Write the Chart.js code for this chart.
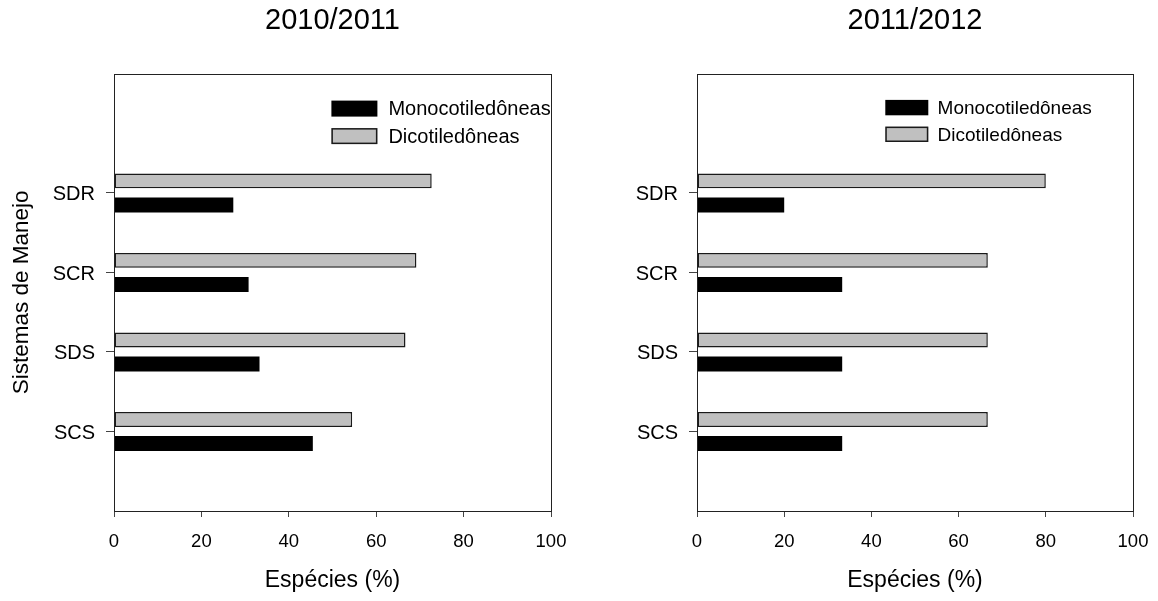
<!DOCTYPE html>
<html><head><meta charset="utf-8">
<script src="https://cdn.jsdelivr.net/npm/chart.js@4/dist/chart.umd.min.js"></script>
<style>
body{margin:0;background:#fff;width:1158px;height:601px;overflow:hidden;position:relative}
.c{position:absolute;top:0;width:579px;height:601px}
</style></head><body>
<div class="c" style="left:0"><canvas id="c1"></canvas></div>
<div class="c" style="left:579px"><canvas id="c2"></canvas></div>
<script>
// ---- data ----
const categories = ['SCS', 'SDS', 'SCR', 'SDR'];
const categoryPositions = [1, 2, 3, 4];
const seriesNames = ['Monocotiledôneas', 'Dicotiledôneas'];
const mono2010 = [45.5, 33.3, 30.8, 27.3];
const dicot2010 = [54.5, 66.7, 69.2, 72.7];
const mono2011 = [33.3, 33.3, 33.3, 20.0];
const dicot2011 = [66.7, 66.7, 66.7, 80.0];
const xTicks = [0, 20, 40, 60, 80, 100];
const panelTitles = ['2010/2011', '2011/2012'];
const xTitle = 'Espécies (%)';
const yTitle = 'Sistemas de Manejo';

Chart.defaults.font.family = '"Liberation Sans", Arial, sans-serif';
Chart.defaults.color = '#000';
Chart.defaults.animation = false;

const boxPlugin = {
  id: 'boxPlugin',
  afterDraw(chart) {
    const {ctx, chartArea: a} = chart;
    ctx.save();
    ctx.strokeStyle = '#222';
    ctx.lineWidth = 1;
    ctx.strokeRect(Math.round(a.left) + 0.5, Math.round(a.top) + 0.5,
      Math.round(a.right) - Math.round(a.left), Math.round(a.bottom) - Math.round(a.top));
    ctx.restore();
  }
};

const insideLegend = {
  id: 'insideLegend',
  afterDatasetsDraw(chart, args, o) {
    const {ctx, chartArea: a} = chart;
    const items = chart.data.datasets.slice().reverse();
    ctx.save();
    items.forEach((ds, i) => {
      const x = a.left + o.x, y = a.top + o.y + i * o.gap;
      ctx.fillStyle = ds.backgroundColor;
      ctx.fillRect(x, y, o.w, o.h);
      if (ds.borderWidth) {
        ctx.strokeStyle = ds.borderColor;
        ctx.lineWidth = 1.5;
        ctx.strokeRect(x + 0.75, y + 0.75, o.w - 1.5, o.h - 1.5);
      }
      ctx.fillStyle = '#000';
      ctx.font = o.fontSize + 'px "Liberation Sans", Arial, sans-serif';
      ctx.textBaseline = 'middle';
      ctx.textAlign = 'left';
      ctx.fillText(ds.label, x + o.w + o.textGap, y + o.h / 2 + 1);
    });
    ctx.restore();
  }
};

function makeChart(id, mono, dicot, title, showYTitle, yWidth, padRight, leg) {
  const toPts = arr => arr.map((v, i) => ({x: v, y: categoryPositions[i]}));
  return new Chart(document.getElementById(id), {
    type: 'bar',
    data: {
      datasets: [
        {label: seriesNames[1], data: toPts(dicot), backgroundColor: '#c0c0c0',
         borderColor: '#1a1a1a', borderWidth: 1.5, borderSkipped: false},
        {label: seriesNames[0], data: toPts(mono), backgroundColor: '#000000',
         borderColor: '#000000', borderWidth: 0, borderSkipped: false}
      ]
    },
    options: {
      indexAxis: 'y',
      responsive: true,
      maintainAspectRatio: false,
      layout: {padding: {top: 0, left: 0, right: padRight, bottom: 0}},
      datasets: {bar: {categoryPercentage: 0.605, barPercentage: 0.622, grouped: true}},
      plugins: {
        legend: {display: false},
        tooltip: {enabled: false},
        title: {display: true, text: title, fullSize: false,
          font: {size: 29, weight: 'normal'}, color: '#000',
          padding: {top: 4, bottom: 34.8}},
        insideLegend: leg
      },
      scales: {
        x: {
          type: 'linear', min: 0, max: 100,
          afterBuildTicks: s => { s.ticks = xTicks.map(v => ({value: v})); },
          afterFit: s => { s.height = 90; s.paddingLeft = 0; s.paddingRight = 0; },
          border: {display: false},
          grid: {drawOnChartArea: false, drawTicks: true, tickLength: 6, color: '#444', lineWidth: 1},
          ticks: {font: {size: 18.5}, color: '#000', padding: 14, maxRotation: 0},
          title: {display: true, text: xTitle, font: {size: 23}, color: '#000',
            padding: {top: 0, bottom: 7}}
        },
        y: {
          type: 'linear', min: 0, max: 5.5, offset: false,
          afterBuildTicks: s => { s.ticks = categoryPositions.map(v => ({value: v})); },
          afterFit: s => { s.width = yWidth; s.paddingTop = 0; s.paddingBottom = 0; },
          border: {display: false},
          grid: {offset: false, drawOnChartArea: false, drawTicks: true, tickLength: 8, color: '#444', lineWidth: 1},
          ticks: {font: {size: 20}, color: '#000', padding: 11, labelOffset: 2,
            callback: v => categories[categoryPositions.indexOf(v)]},
          title: {display: showYTitle, text: yTitle, font: {size: 22.5}, color: '#000',
            padding: {top: 8, bottom: 0}}
        }
      }
    },
    plugins: [boxPlugin, insideLegend]
  });
}

makeChart('c1', mono2010, dicot2010, panelTitles[0], true, 114, 28,
  {x: 217.4, y: 27, w: 46, h: 16, gap: 27.5, textGap: 11, fontSize: 20});
makeChart('c2', mono2011, dicot2011, panelTitles[1], false, 118, 25,
  {x: 188.3, y: 26.3, w: 43, h: 15.4, gap: 26.7, textGap: 9.3, fontSize: 19});
</script>
</body></html>
